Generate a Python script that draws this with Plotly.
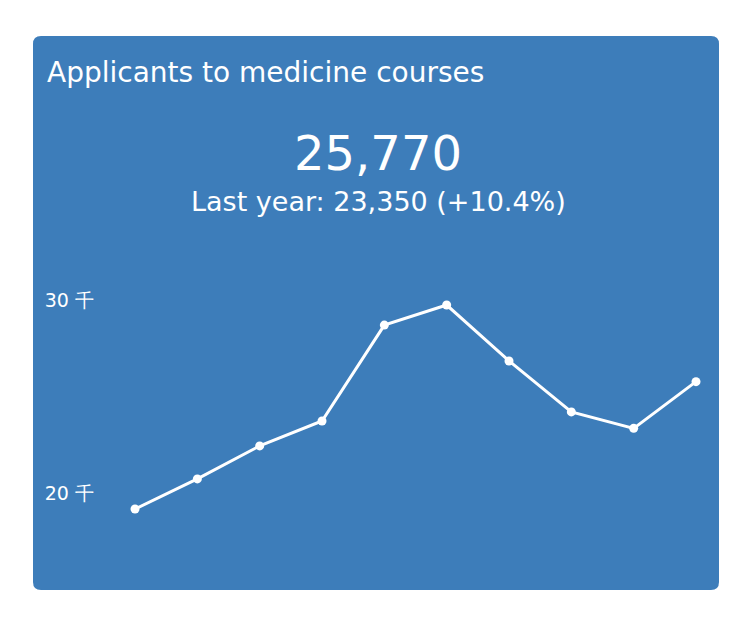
import plotly.graph_objects as go

years = list(range(10))
applicants = [19170, 20730, 22440, 23730, 28700, 29740, 26840, 24200, 23350, 25770]
tick_vals = [20000, 30000]
tick_text = ["20 千", "30 千"]
title = "Applicants to medicine courses"
current_text = "25,770"
sub_text = "Last year: 23,350 (+10.4%)"

OFF = 8  # page offset
W, H = 756, 624
L, R, T, B = 95 - OFF, 37 + OFF, 270 - OFF, 34 + OFF
pw, ph = W - L - R, H - T - B
def px(x): return (x - OFF - L) / pw
def py(y): return (H - B - (y - OFF)) / ph

card = "#3d7dba"
x0, x1, y0, y1 = px(33), px(719), py(590), py(36)
rx, ry = 8 / pw, 8 / ph
path = (f"M {x0+rx},{y0} L {x1-rx},{y0} Q {x1},{y0} {x1},{y0+ry} "
        f"L {x1},{y1-ry} Q {x1},{y1} {x1-rx},{y1} L {x0+rx},{y1} "
        f"Q {x0},{y1} {x0},{y1-ry} L {x0},{y0+ry} Q {x0},{y0} {x0+rx},{y0} Z")

fig = go.Figure(go.Scatter(x=years, y=applicants, mode="lines+markers",
                           line=dict(color="white", width=3),
                           marker=dict(color="white", size=9),
                           hoverinfo="skip"))
fig.update_layout(
    width=W, height=H, margin=dict(l=L, r=R, t=T, b=B),
    paper_bgcolor="white", plot_bgcolor="rgba(0,0,0,0)",
    font=dict(family="DejaVu Sans", color="white"),
    showlegend=False,
    shapes=[dict(type="path", path=path, xref="paper", yref="paper",
                 fillcolor=card, line=dict(width=0), layer="below")],
    annotations=[
        dict(text=title, x=px(45), y=py(72), xref="paper", yref="paper",
             xanchor="left", yanchor="middle", showarrow=False, font=dict(size=28, color="white")),
        dict(text=current_text, x=px(378), y=py(153), xref="paper", yref="paper",
             xanchor="center", yanchor="middle", showarrow=False, font=dict(size=48, color="white")),
        dict(text=sub_text, x=px(378), y=py(201), xref="paper", yref="paper",
             xanchor="center", yanchor="middle", showarrow=False, font=dict(size=27, color="white")),
    ],
)
fig.update_xaxes(range=[-0.642, 9.369], visible=False, fixedrange=True)
fig.update_yaxes(range=[14974, 31554], tickvals=tick_vals, ticktext=tick_text,
                 showgrid=False, zeroline=False, showline=False,
                 tickfont=dict(size=19, color="white"), ticks="", fixedrange=True)
fig.write_html("out.html")
